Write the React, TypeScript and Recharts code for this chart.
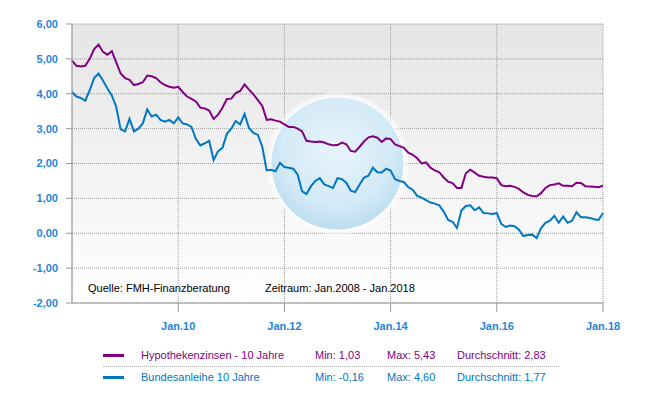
import React from "react";
import {
  LineChart,
  Line,
  XAxis,
  YAxis,
  CartesianGrid,
  ReferenceDot,
} from "recharts";

// monthly readings, Jan 2008 (index 0) .. Jan 2018 (index 120)
const HYPO = [
  4.95, 4.8, 4.78, 4.8, 5.0, 5.28, 5.41, 5.2, 5.12, 5.22, 4.9, 4.58,
  4.45, 4.4, 4.25, 4.28, 4.33, 4.52, 4.5, 4.45, 4.33, 4.25, 4.2, 4.17,
  4.2, 4.05, 3.92, 3.85, 3.78, 3.6, 3.58, 3.52, 3.28, 3.4, 3.6, 3.85,
  3.86, 4.02, 4.08, 4.27, 4.12, 3.98, 3.82, 3.65, 3.25, 3.27, 3.23, 3.2,
  3.12, 3.05, 3.05, 3.0, 2.92, 2.65, 2.63, 2.62, 2.63, 2.6, 2.55, 2.52,
  2.53, 2.6, 2.55, 2.36, 2.34, 2.48, 2.63, 2.75, 2.78, 2.74, 2.62, 2.72,
  2.7, 2.55, 2.5, 2.45, 2.31, 2.25, 2.15, 2.0, 2.03, 1.88, 1.8, 1.75,
  1.6, 1.48, 1.44, 1.3, 1.3, 1.72, 1.82, 1.74, 1.65, 1.62, 1.6, 1.6,
  1.58, 1.38, 1.35, 1.36, 1.33, 1.27, 1.17, 1.1, 1.07, 1.06, 1.15, 1.3,
  1.38, 1.4, 1.43, 1.36, 1.36, 1.35, 1.45, 1.44, 1.35, 1.34, 1.33, 1.32,
  1.36,
];

const BUND = [
  4.05, 3.92, 3.88, 3.8, 4.1, 4.45, 4.58, 4.38, 4.15, 3.95, 3.62, 2.98,
  2.92, 3.28, 2.92, 3.0, 3.15, 3.55, 3.35, 3.4, 3.25, 3.2, 3.25, 3.15,
  3.32, 3.15, 3.12, 3.05, 2.7, 2.52, 2.58, 2.65, 2.1, 2.35, 2.45, 2.85,
  3.0, 3.22, 3.12, 3.42, 3.02, 2.88, 2.82, 2.48, 1.8, 1.82, 1.78, 2.02,
  1.9, 1.88, 1.85, 1.68, 1.2, 1.12, 1.35, 1.5, 1.58, 1.4, 1.35, 1.3,
  1.58, 1.55, 1.45, 1.22, 1.18, 1.4, 1.6, 1.65, 1.88, 1.75, 1.74, 1.85,
  1.8, 1.55, 1.5, 1.47, 1.32, 1.25, 1.07, 1.02, 0.95, 0.88, 0.85, 0.8,
  0.62, 0.38, 0.33, 0.15, 0.65, 0.78, 0.8, 0.66, 0.74, 0.58, 0.57, 0.55,
  0.58, 0.27, 0.18, 0.22, 0.2, 0.1, -0.08, -0.05, -0.04, -0.14, 0.15, 0.3,
  0.36, 0.5, 0.3, 0.48, 0.3, 0.36, 0.6, 0.46, 0.46, 0.44, 0.4, 0.38,
  0.58,
];

const X_TICKS = [24, 48, 72, 96, 120];
const X_TICK_LABELS = ["Jan.10", "Jan.12", "Jan.14", "Jan.16", "Jan.18"];
const Y_TICKS = [-2, -1, 0, 1, 2, 3, 4, 5, 6];

const SERIES_NAMES = ["Hypothekenzinsen - 10 Jahre", "Bundesanleihe 10 Jahre"];
const SERIES_COLORS = ["#800080", "#0077c0"];
const SERIES_MIN = ["1,03", "-0,16"];
const SERIES_MAX = ["5,43", "4,60"];
const SERIES_AVG = ["2,83", "1,77"];

const SOURCE_NOTE = "Quelle: FMH-Finanzberatung";
const PERIOD_NOTE = "Zeitraum: Jan.2008 - Jan.2018";

const FONT = "Arial, 'Liberation Sans', sans-serif";
const TICK_COLOR = "#2585d5";

const data = HYPO.map((h, i) => ({ m: i, hypo: h, bund: BUND[i] }));

const fmtY = (v: number) => v.toFixed(2).replace(".", ",");
const fmtX = (v: number) => X_TICK_LABELS[X_TICKS.indexOf(v)] ?? "";

// faint globe watermark behind the lines
const Globe = (p: any) => (
  <g>
    <circle cx={p.cx} cy={p.cy} r={p.r + 5} fill="#ffffff" opacity={0.45} />
    <circle cx={p.cx} cy={p.cy} r={p.r + 2} fill="#ffffff" opacity={0.7} />
    <circle cx={p.cx} cy={p.cy} r={p.r} fill="url(#globeGrad)" />
  </g>
);

const App = () => {
  return (
    <div style={{ position: "relative", width: 663, height: 393, fontFamily: FONT }}>
      <style>{"body{margin:0}"}</style>
      <LineChart
        width={663}
        height={393}
        data={data}
        margin={{ top: 24, right: 60, bottom: 60, left: 0 }}
      >
        <defs>
          <linearGradient id="bgGrad" x1="0" y1="0" x2="0" y2="1">
            <stop offset="0%" stopColor="#e5e5e5" />
            <stop offset="100%" stopColor="#ffffff" />
          </linearGradient>
          <radialGradient id="globeGrad" cx="0.5" cy="0.4" r="0.6">
            <stop offset="0%" stopColor="#e8f4fb" />
            <stop offset="70%" stopColor="#d3eaf7" />
            <stop offset="100%" stopColor="#bcdcf0" />
          </radialGradient>
        </defs>
        <CartesianGrid
          fill="url(#bgGrad)"
          fillOpacity={1}
          stroke="#999999"
          strokeDasharray="1 1"
        />
        <XAxis
          type="number"
          dataKey="m"
          domain={[0, 120]}
          ticks={X_TICKS}
          tickFormatter={fmtX}
          height={30}
          tickSize={9}
          tickMargin={10}
          stroke="#999999"
          tick={{ fill: TICK_COLOR, fontSize: 11, fontWeight: "bold", fontFamily: FONT }}
        />
        <YAxis
          type="number"
          domain={[-2, 6]}
          ticks={Y_TICKS}
          tickFormatter={fmtY}
          width={72}
          tickSize={6}
          tickMargin={8}
          stroke="#999999"
          tick={{ fill: TICK_COLOR, fontSize: 11, fontWeight: "bold", fontFamily: FONT }}
        />
        <ReferenceDot x={60} y={2} r={66} shape={Globe} zIndex={-50} />
        <Line
          type="linear"
          dataKey="hypo"
          stroke={SERIES_COLORS[0]}
          strokeWidth={2}
          dot={false}
          isAnimationActive={false}
        />
        <Line
          type="linear"
          dataKey="bund"
          stroke={SERIES_COLORS[1]}
          strokeWidth={2}
          dot={false}
          isAnimationActive={false}
        />
      </LineChart>

      <div style={{ position: "absolute", left: 88, top: 282, fontSize: 11, lineHeight: "13px", color: "#000" }}>
        {SOURCE_NOTE}
      </div>
      <div style={{ position: "absolute", left: 265, top: 282, fontSize: 11, lineHeight: "13px", color: "#000" }}>
        {PERIOD_NOTE}
      </div>

      <div style={{ position: "absolute", left: 103, top: 345, width: 456, fontSize: 11 }}>
        {SERIES_NAMES.map((name, i) => (
          <div
            key={name}
            style={{
              position: "relative",
              height: 21,
              lineHeight: "21px",
              color: SERIES_COLORS[i],
              borderBottom: i === 0 ? "1px dotted #b0b0b0" : "none",
            }}
          >
            <span
              style={{
                position: "absolute",
                left: 0,
                top: 9,
                width: 21,
                height: 3,
                background: SERIES_COLORS[i],
              }}
            />
            <span style={{ position: "absolute", left: 38 }}>{name}</span>
            <span style={{ position: "absolute", left: 212 }}>Min: {SERIES_MIN[i]}</span>
            <span style={{ position: "absolute", left: 284 }}>Max: {SERIES_MAX[i]}</span>
            <span style={{ position: "absolute", left: 354 }}>Durchschnitt: {SERIES_AVG[i]}</span>
          </div>
        ))}
      </div>
    </div>
  );
};

export default App;
